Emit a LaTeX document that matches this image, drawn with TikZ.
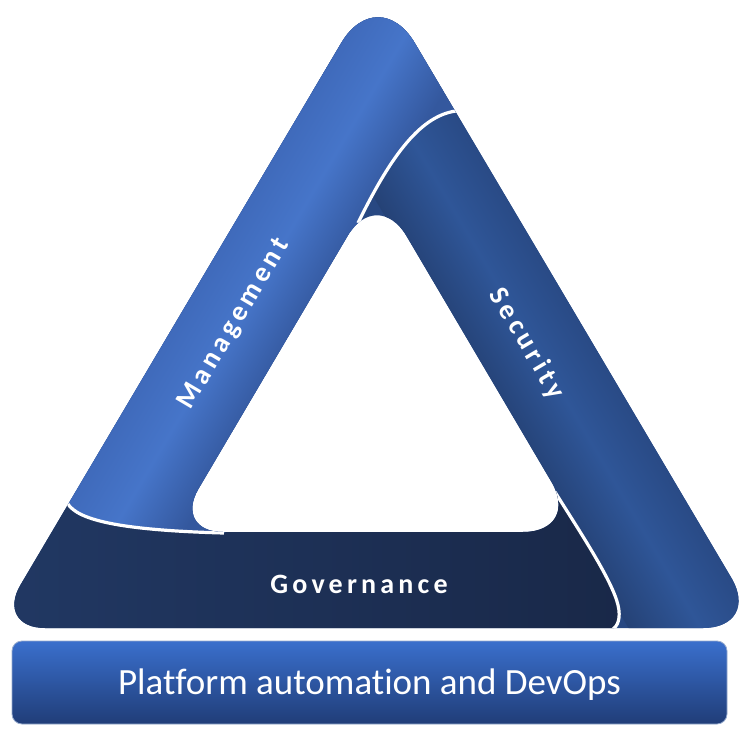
\documentclass[tikz,border=0pt]{standalone}
\usepackage{fontspec}
\setmainfont{Carlito}
\newfontfamily\spacedfont[LetterSpace=15]{Carlito}
\newfontfamily\barfont[Ligatures=NoCommon]{Carlito}
\definecolor{mgA}{RGB}{70,117,201}
\definecolor{mgO}{RGB}{62,104,184}
\definecolor{mgI}{RGB}{52,88,158}
\definecolor{scA}{RGB}{47,86,152}
\definecolor{scI}{RGB}{37,66,118}
\definecolor{scO}{RGB}{40,72,130}
\definecolor{gvA}{RGB}{33,56,99}
\definecolor{gvB}{RGB}{25,40,72}
\definecolor{barA}{RGB}{58,111,204}
\definecolor{barB}{RGB}{32,61,120}
\definecolor{barEdge}{RGB}{150,170,205}
\begin{document}
\begin{tikzpicture}[x=1pt,y=-1pt,
  lbl/.style={text=white, font=\spacedfont\bfseries\fontsize{28}{32}\selectfont, inner sep=0pt, text height=18pt, text depth=0pt},
  barbox/.style={draw=barEdge, line width=0.8pt, rounded corners=10pt, top color=barA, bottom color=barB, minimum width=715pt, minimum height=83pt, inner sep=0pt, text=white, font=\barfont\fontsize{37}{42}\selectfont, text height=23.5pt, text depth=0pt},
  sep/.style={draw=white, line width=3.2pt}]
\useasboundingbox (0,0) rectangle (749,743);
\begin{scope}[even odd rule]
  % ring
  \clip
    (370,628) [rounded corners=50pt] -- (-5,628) -- (186,305) [rounded corners=72pt] -- (378,-19) -- (570,305) [rounded corners=58pt] -- (761,628) -- cycle
    (377,532) [rounded corners=50pt] -- (173,532) -- (275,359) [rounded corners=58pt] -- (377,186) -- (479,359) [rounded corners=58pt] -- (581,532) -- cycle;
  % Security (base)
  \fill[scO] (-100,-100) rectangle (850,800);
  \begin{scope}[transform canvas={rotate around={30.6:(532,343)}}]
    \shade[left color=scI, right color=scO, middle color=scA] (470,-300) rectangle (594,900);
  \end{scope}
  % Management
  \begin{scope}
    \clip (456,111) .. controls (418,116) and (388,162) .. (358,223) -- (372,240) -- (224,533)
      .. controls (110,530) and (72,518) .. (66,500) -- (-100,500) -- (-100,-100) -- (560,-100) -- (560,111) -- cycle;
    \fill[mgI] (-100,-100) rectangle (600,600);
    \begin{scope}[transform canvas={rotate around={-30.6:(236,322)}}]
      \shade[left color=mgO, right color=mgI, middle color=mgA] (174,-300) rectangle (298,900);
    \end{scope}
  \end{scope}
  % Governance
  \begin{scope}
    \clip (66,500) .. controls (72,518) and (110,530) .. (224,533) -- (300,505) -- (530,500) -- (555,492)
      .. controls (580,532) and (612,580) .. (618,605) .. controls (621,618) and (618,626) .. (612,630)
      -- (612,700) -- (-100,700) -- (-100,500) -- cycle;
    \shade[left color=gvA, right color=gvB] (0,490) rectangle (625,640);
  \end{scope}
  % white separators
  \draw[sep] (358,223) .. controls (388,162) and (418,116) .. (456,111);
  \draw[sep] (66,500) .. controls (72,518) and (110,530) .. (224,533);
  \draw[sep] (555,492) .. controls (580,532) and (612,580) .. (618,605) .. controls (621,618) and (618,626) .. (612,630);
\end{scope}
\node[lbl, rotate=59.4] (mgmt) at (232,323) {Management};
\node[lbl, rotate=-59.4] (sec) at (528,343) {Security};
\node[lbl] (gov) at (359,584) {Governance};
\node[barbox] (bar) at (369.5,682.5) {Platform automation and DevOps};
\end{tikzpicture}
\end{document}
